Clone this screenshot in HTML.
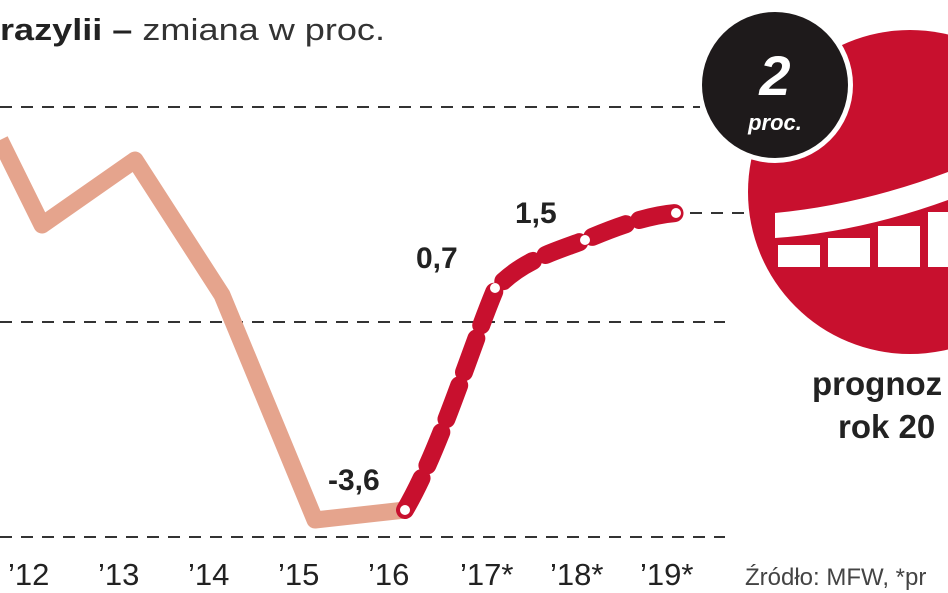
<!DOCTYPE html><html><head><style>body{margin:0;background:#fff}svg{display:block}</style></head><body>
<svg width="948" height="593" viewBox="0 0 948 593" xmlns="http://www.w3.org/2000/svg" font-family="Liberation Sans, sans-serif">
<text x="0" y="40" font-size="31" fill="#333" textLength="385" lengthAdjust="spacingAndGlyphs"><tspan font-weight="bold" fill="#222">razylii –</tspan> zmiana w proc.</text>
<g stroke="#333" stroke-width="2" stroke-dasharray="12,9">
<line x1="0" y1="107" x2="700" y2="107"/><line x1="0" y1="322" x2="725" y2="322"/><line x1="0" y1="537" x2="725" y2="537"/><line x1="690" y1="213" x2="745" y2="213"/></g>
<polyline points="0,140 42,225 135,160 222,295 315,520 405,510" fill="none" stroke="#e5a48d" stroke-width="17" stroke-linejoin="round"/>
<path d="M405,510 C440,450 470,350 495,290 C520,260 560,250 585,240 C620,225 650,215 676,213" fill="none" stroke="#c8102e" stroke-width="18" stroke-dasharray="36,14" stroke-linecap="round"/>
<g fill="#fff"><circle cx="405" cy="510" r="5"/><circle cx="495" cy="288" r="5"/><circle cx="585" cy="240" r="5"/><circle cx="676" cy="213" r="5"/></g>
<g font-size="30" font-weight="bold" fill="#222"><text x="328" y="490">-3,6</text><text x="416" y="268">0,7</text><text x="515" y="223">1,5</text></g>
<g font-size="31" fill="#222"><text x="8" y="585">’12</text><text x="98" y="585">’13</text><text x="188" y="585">’14</text><text x="278" y="585">’15</text><text x="368" y="585">’16</text><text x="460" y="585">’17*</text><text x="550" y="585">’18*</text><text x="640" y="585">’19*</text></g>
<text x="745" y="585" font-size="24" fill="#444">Źródło: MFW, *pr</text>
<circle cx="910" cy="192" r="162" fill="#c8102e"/>
<path d="M775,213 Q860,205 948,172 L948,200 Q860,232 775,238 Z" fill="#fff"/>
<g fill="#fff"><rect x="778" y="245" width="42" height="22"/><rect x="828" y="238" width="42" height="29"/><rect x="878" y="226" width="42" height="41"/><rect x="928" y="212" width="20" height="55"/></g>
<circle cx="775" cy="85" r="78" fill="#fff"/><circle cx="775" cy="85" r="73" fill="#1e1a1b"/>
<text x="775" y="95" font-size="56" font-weight="bold" font-style="italic" fill="#fff" text-anchor="middle">2</text>
<text x="775" y="130" font-size="22" font-weight="bold" font-style="italic" fill="#fff" text-anchor="middle">proc.</text>
<g font-size="33" font-weight="bold" fill="#222"><text x="812" y="395">prognoz</text><text x="838" y="438">rok 20</text></g>
</svg></body></html>
